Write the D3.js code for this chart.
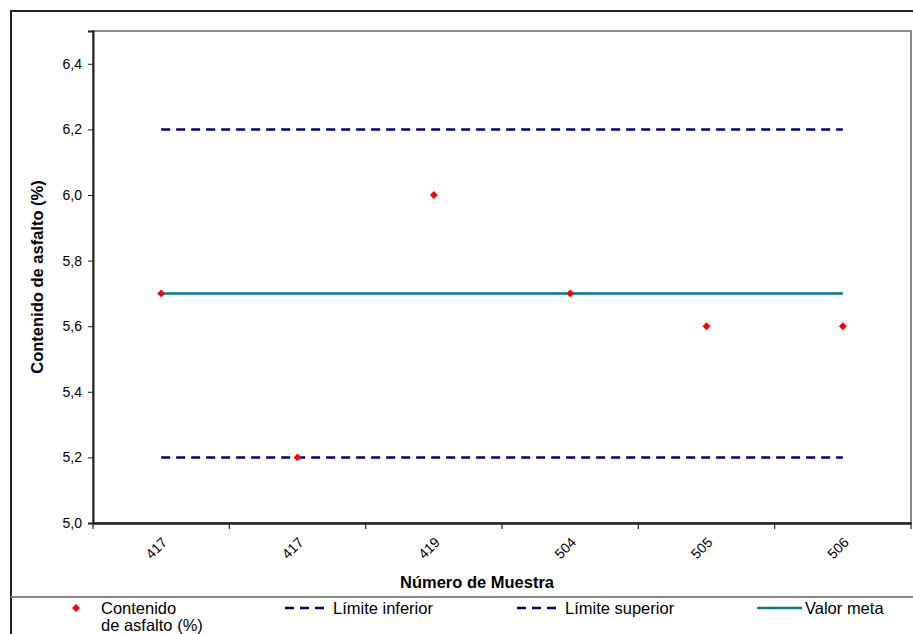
<!DOCTYPE html>
<html><head><meta charset="utf-8">
<script src="https://cdn.jsdelivr.net/npm/d3@7"></script>
<style>body{margin:0;background:#fff}svg{display:block;font-family:"Liberation Sans",Arial,sans-serif}</style>
</head><body><svg id="c" width="913" height="634"></svg>
<script>
const categories = ["417","417","419","504","505","506"];
const contenido = [5.7, 5.2, 6.0, 5.7, 5.6, 5.6];
const limiteInferior = [5.2,5.2,5.2,5.2,5.2,5.2];
const limiteSuperior = [6.2,6.2,6.2,6.2,6.2,6.2];
const valorMeta = [5.7,5.7,5.7,5.7,5.7,5.7];
const yTicks = [5.0,5.2,5.4,5.6,5.8,6.0,6.2,6.4];

const svg = d3.select("#c");
const L=93, T=31, R=911, B=523;
const idx = categories.map((d,i)=>i);
const x = d3.scaleBand().domain(idx).range([L,R]);
const y = d3.scaleLinear().domain([5.0,6.5]).range([B,T]);
const cx = i => x(i)+x.bandwidth()/2;
const FF = "Liberation Sans, Arial, sans-serif";

// outer frame
svg.append("path").attr("d",`M11,634 V11 H913`).attr("fill","none").attr("stroke","#222").attr("stroke-width",2);
// plot area border
svg.append("rect").attr("x",L).attr("y",T).attr("width",R-L).attr("height",B-T).attr("fill","#fff").attr("stroke","#666").attr("stroke-width",1.5);

// y axis
const ya = svg.append("g").attr("transform",`translate(${L},0)`)
  .call(d3.axisLeft(y).tickValues(yTicks).tickSize(5).tickFormat(d=>d3.format(".1f")(d).replace(".",",")));
ya.select(".domain").attr("stroke","#222").attr("stroke-width",2);
ya.selectAll(".tick line").attr("stroke","#222");
ya.selectAll("text").attr("font-size",14).attr("fill","#000").attr("font-family",FF).attr("dx",-3);

// x axis
const xa = svg.append("g").attr("transform",`translate(0,${B})`)
  .call(d3.axisBottom(x).tickSize(0).tickFormat(i=>categories[i]));
xa.select(".domain").attr("stroke","#222").attr("stroke-width",2.5);
xa.selectAll(".tick text").attr("font-size",14).attr("fill","#000").attr("font-family",FF)
  .attr("text-anchor","middle").attr("y",0).attr("dy",0).attr("transform","translate(-4,26) rotate(-45)").attr("dominant-baseline","middle");
// category separator ticks
const sep = d3.range(categories.length+1).map(i=>L+i*x.bandwidth());
svg.append("g").selectAll("line").data(sep).join("line")
  .attr("x1",d=>d).attr("x2",d=>d).attr("y1",B).attr("y2",B+6).attr("stroke","#222").attr("stroke-width",1.2);

// lines
const line = d3.line().x((d,i)=>cx(i)).y(d=>y(d));
svg.append("path").datum(limiteInferior).attr("d",line).attr("fill","none").attr("stroke","#000080").attr("stroke-width",2.5).attr("stroke-dasharray","9,6");
svg.append("path").datum(limiteSuperior).attr("d",line).attr("fill","none").attr("stroke","#000080").attr("stroke-width",2.5).attr("stroke-dasharray","9,6");
svg.append("path").datum(valorMeta).attr("d",line).attr("fill","none").attr("stroke","#008080").attr("stroke-width",2.5);

// points
const diamond = d3.symbol().type(d3.symbolDiamond2).size(40);
svg.append("g").selectAll("path").data(contenido).join("path")
  .attr("transform",(d,i)=>`translate(${cx(i)},${y(d)})`).attr("d",diamond).attr("fill","#ff0000");

// axis titles
svg.append("text").attr("x",477).attr("y",588).attr("text-anchor","middle").attr("font-size",16.5).attr("font-weight","bold").text("Número de Muestra");
svg.append("text").attr("transform",`translate(43,${(T+B)/2}) rotate(-90)`).attr("text-anchor","middle").attr("font-size",16.5).attr("font-weight","bold").text("Contenido de asfalto (%)");

// legend
svg.append("line").attr("x1",11).attr("x2",913).attr("y1",597).attr("y2",597).attr("stroke","#888").attr("stroke-width",2);
const lg = svg.append("g").attr("font-size",16.5);
lg.append("path").attr("transform","translate(76,608)").attr("d",diamond).attr("fill","#ff0000");
lg.append("text").attr("x",101).attr("y",614).text("Contenido");
lg.append("text").attr("x",101).attr("y",631).text("de asfalto (%)");
const items = [
  {x:285, label:"Límite inferior", color:"#000080", dash:"9,6"},
  {x:517, label:"Límite superior", color:"#000080", dash:"9,6"},
  {x:757, label:"Valor meta", color:"#008080", dash:null}
];
items.forEach(it=>{
  lg.append("line").attr("x1",it.x).attr("x2",it.x+45).attr("y1",608).attr("y2",608).attr("stroke",it.color).attr("stroke-width",2.5).attr("stroke-dasharray",it.dash);
  lg.append("text").attr("x",it.x+48).attr("y",614).text(it.label);
});
</script></body></html>
